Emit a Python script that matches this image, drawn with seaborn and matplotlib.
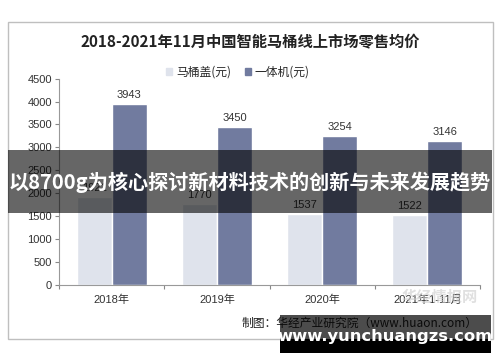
import matplotlib
matplotlib.use("Agg")
import matplotlib.pyplot as plt
import matplotlib.patches as mpatches
import seaborn as sns
import pandas as pd

categories = ["2018年", "2019年", "2020年", "2021年1-11月"]
series_names = ["马桶盖(元)", "一体机(元)"]
lid_values = [1921, 1770, 1537, 1522]
onepiece_values = [3943, 3450, 3254, 3146]
yticks = [0, 500, 1000, 1500, 2000, 2500, 3000, 3500, 4000, 4500]

df = pd.DataFrame({
    "cat": categories * 2,
    "series": [series_names[0]] * 4 + [series_names[1]] * 4,
    "value": lid_values + onepiece_values,
})

sns.set_theme(style="white")
plt.rcParams['font.family'] = ['Liberation Sans', 'Noto Sans CJK SC', 'DejaVu Sans']

W, H = 500, 362
fig = plt.figure(figsize=(5.0, 3.62), dpi=100)
fig.patch.set_facecolor("white")

def fx(x):
    return x / W

def fy(y):
    return 1 - y / H

ax = fig.add_axes([fx(59), fy(284.7), fx(480) - fx(59), fy(78.7) - fy(284.7)])
colors = ["#DFE3EC", "#717B9F"]
sns.barplot(data=df, x="cat", y="value", hue="series", palette=colors,
            width=0.667, saturation=1, ax=ax, legend=False, errorbar=None)

ax.set_ylim(0, 4500)
ax.set_xlim(-0.5, 3.5)
ax.set_yticks(yticks)
ax.set_yticklabels([str(v) for v in yticks], fontsize=8, color="#333333")
ax.set_xlabel("")
ax.set_ylabel("")
ax.tick_params(axis="y", length=3, color="#888888", width=0.8, pad=2, left=True)
ax.tick_params(axis="x", which="major", length=0, pad=7, labelsize=8, labelcolor="#333333")
ax.set_xticks([-0.5, 0.5, 1.5, 2.5, 3.5], minor=True)
ax.tick_params(axis="x", which="minor", length=3, color="#888888", width=0.8, bottom=True)
for s in ["top", "right"]:
    ax.spines[s].set_visible(False)
for s in ["left", "bottom"]:
    ax.spines[s].set_color("#999999")
    ax.spines[s].set_linewidth(0.8)

for cont in ax.containers:
    ax.bar_label(cont, fmt="%d", padding=3, fontsize=8, color="#333333")

# chart border
fig.patches.append(mpatches.Rectangle((fx(8), fy(339)), fx(493) - fx(8), fy(22) - fy(339),
                                      transform=fig.transFigure, fill=False,
                                      edgecolor="#BFBFBF", linewidth=1.0, zorder=0))

fig.text(0.5, fy(42), "2018-2021年11月中国智能马桶线上市场零售均价", ha="center", va="center",
         fontsize=11, fontweight="bold", family=['Noto Sans CJK SC', 'DejaVu Sans'], color="#222222")

# legend
handles = [mpatches.Patch(color=c, label=n) for c, n in zip(colors, series_names)]
fig.legend(handles=handles, loc="center", bbox_to_anchor=(fx(238), fy(72)), ncol=2, frameon=False,
           handlelength=0.5, handleheight=0.5, handletextpad=0.3, columnspacing=1.2,
           prop={'family': ['Noto Sans CJK SC', 'DejaVu Sans'], 'size': 8.5})

fig.text(fx(478), fy(323), "制图：华经产业研究院（www.huaon.com）", ha="right", va="center",
         fontsize=8.5, family=['Noto Sans CJK SC', 'DejaVu Sans'], color="#222222")

fig.text(fx(440), fy(297), "华经情报网", ha="center", va="center", fontsize=11, fontweight="bold",
         family=['Noto Sans CJK SC', 'DejaVu Sans'], color="#CCCCCC", alpha=0.6)

# overlay banner
fig.patches.append(mpatches.Rectangle((fx(8), fy(213)), fx(492) - fx(8), fy(150) - fy(213),
                                      transform=fig.transFigure, facecolor="black", alpha=0.6,
                                      edgecolor="none", zorder=5))
fig.text(fx(250), fy(182), "以8700g为核心探讨新材料技术的创新与未来发展趋势", ha="center", va="center",
         fontsize=14.5, fontweight="bold", color="white",
         family=['Noto Sans CJK SC', 'DejaVu Sans'], zorder=6)

# bottom-right watermark
fig.patches.append(mpatches.Rectangle((fx(280), fy(339)), fx(491) - fx(280), fy(315) - fy(339),
                                      transform=fig.transFigure, facecolor="black", alpha=0.7,
                                      edgecolor="none", zorder=5))
fig.patches.append(mpatches.Rectangle((fx(280), fy(353)), fx(491) - fx(280), fy(339) - fy(353),
                                      transform=fig.transFigure, facecolor="black", alpha=1.0,
                                      edgecolor="none", zorder=5))
fig.text(fx(385), fy(337), "www.yunchuangzs.com", ha="center", va="center",
         fontsize=11.8, fontweight="bold", color="white",
         family=['DejaVu Sans'], zorder=6)

fig.savefig("out.png", dpi=100)
